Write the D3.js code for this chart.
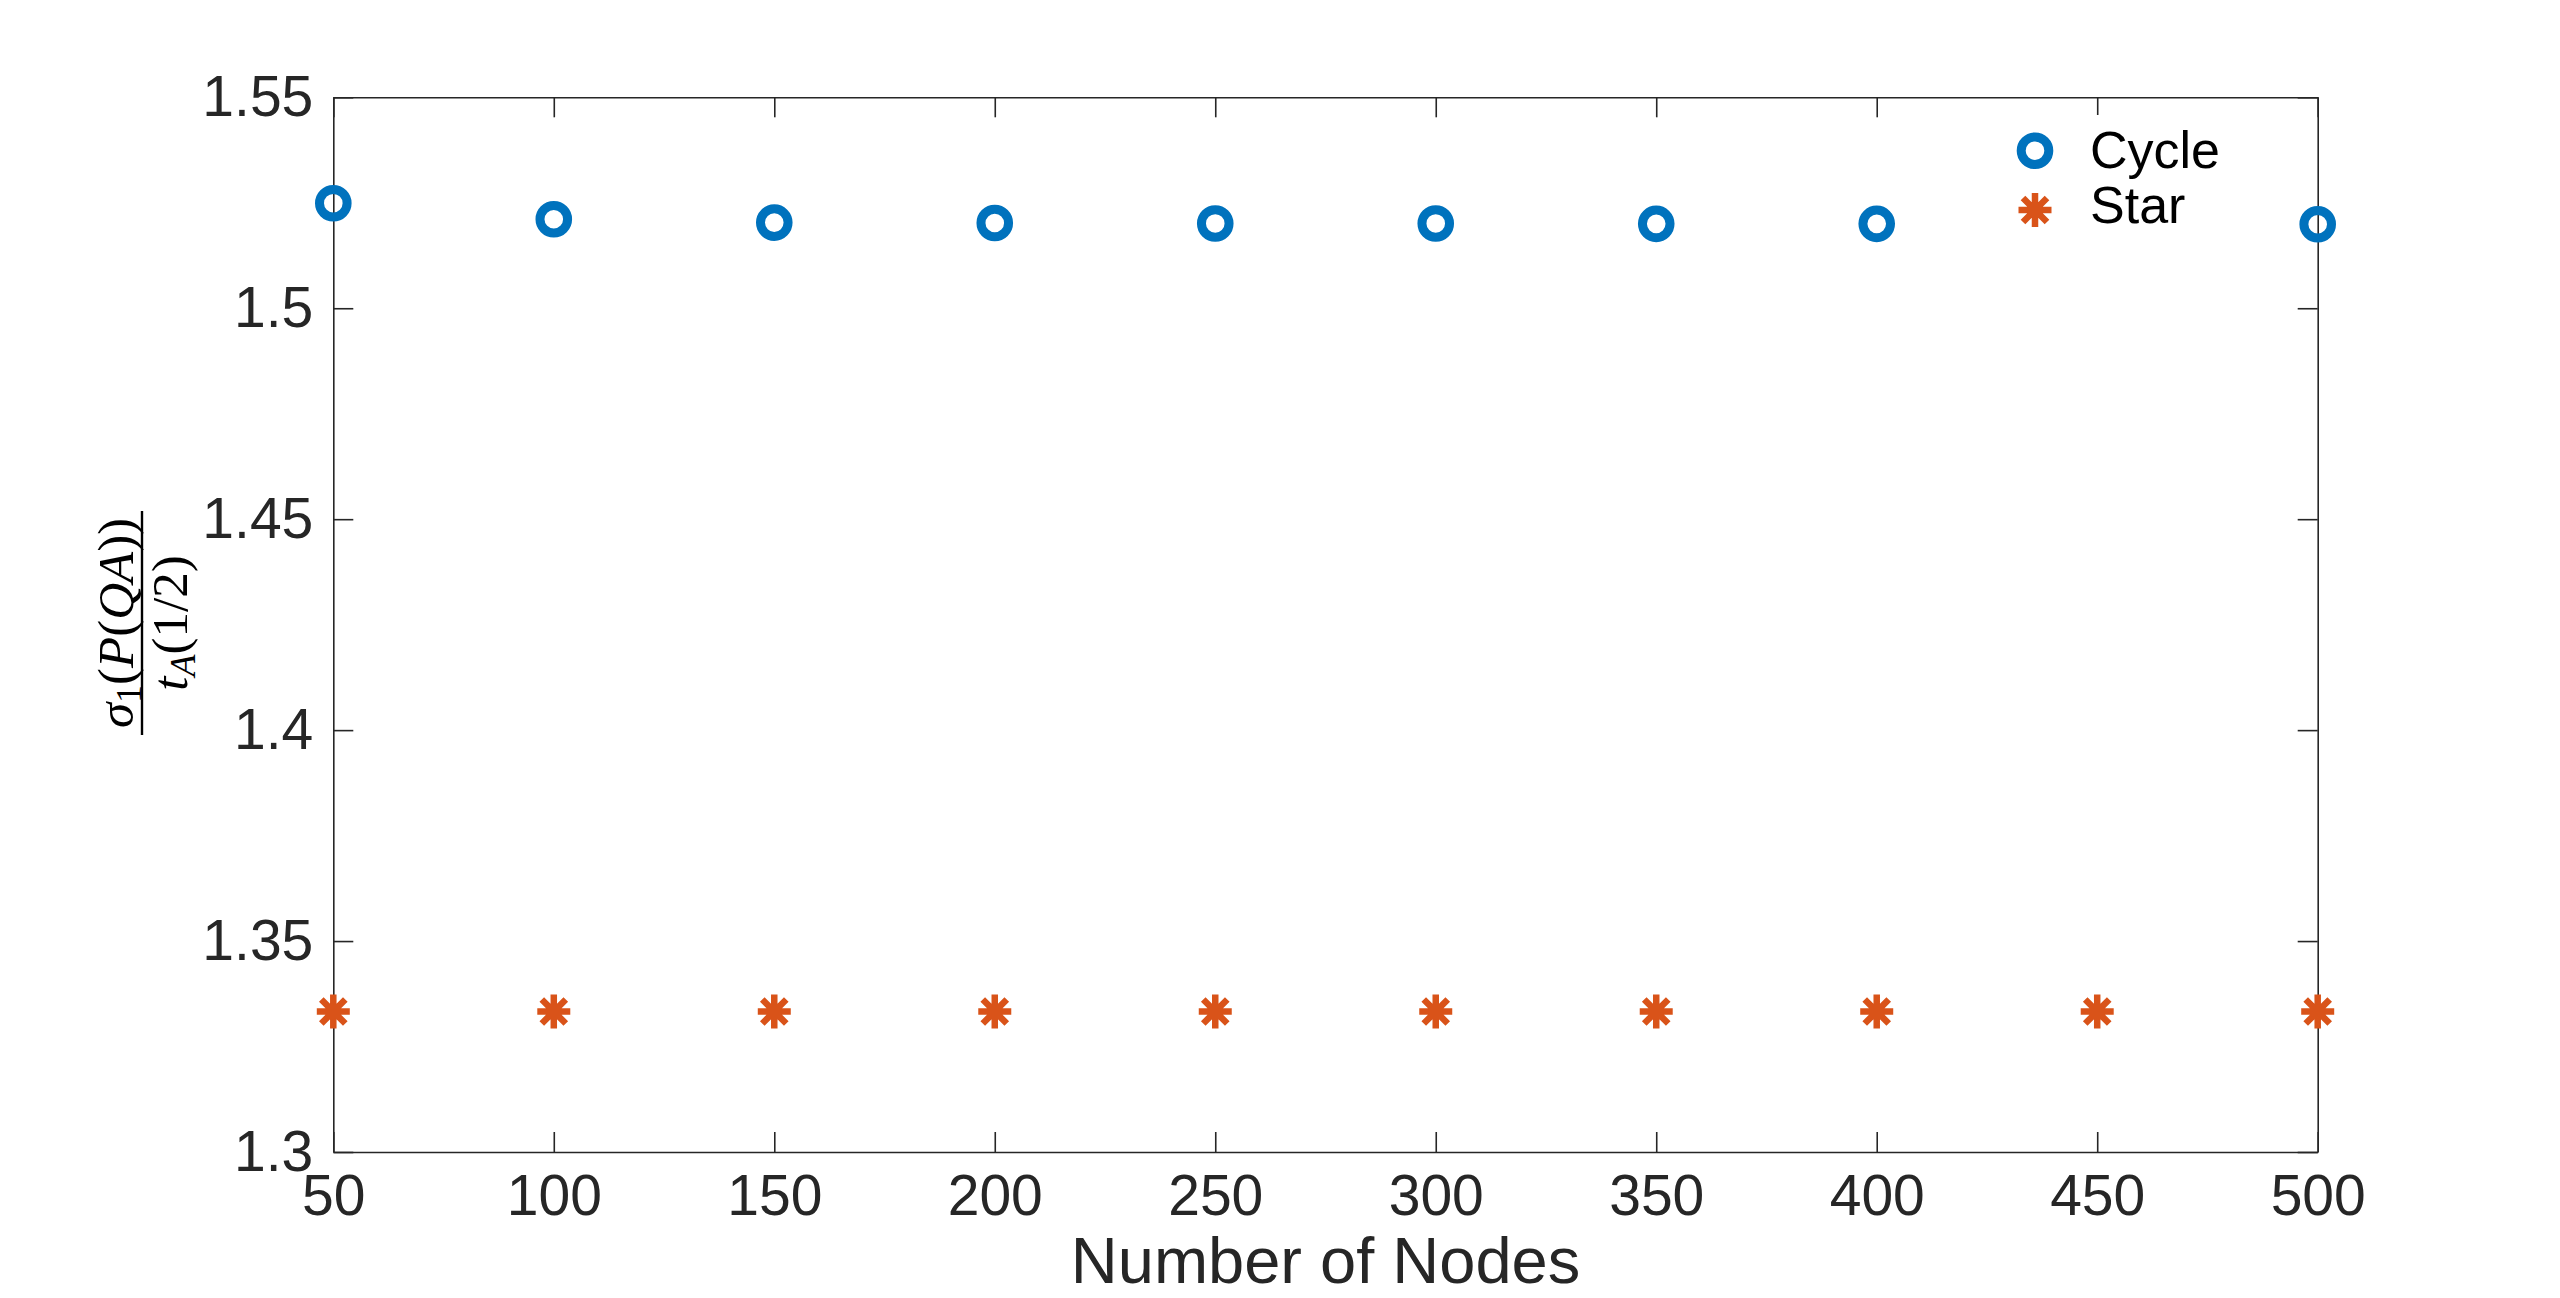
<!DOCTYPE html>
<html>
<head>
<meta charset="utf-8">
<script src="https://cdn.jsdelivr.net/npm/d3@7"></script>
<style>
  html, body { margin: 0; padding: 0; background: #fff; }
  svg { display: block; }
</style>
</head>
<body>
<svg id="chart" width="2560" height="1298"></svg>
<script>
// ---- data ----
const nodes = [50, 100, 150, 200, 250, 300, 350, 400, 450, 500];
const cycleValues = [1.5249, 1.5211, 1.5203, 1.5202, 1.5201, 1.5201, 1.5200, 1.5200, 1.5199, 1.5199];
const starValues = [1.3333, 1.3333, 1.3333, 1.3333, 1.3333, 1.3333, 1.3333, 1.3333, 1.3333, 1.3333];
const xTicks = [50, 100, 150, 200, 250, 300, 350, 400, 450, 500];
const yTicks = [1.3, 1.35, 1.4, 1.45, 1.5, 1.55];
const yTickLabels = ["1.3", "1.35", "1.4", "1.45", "1.5", "1.55"];
const seriesNames = ["Cycle", "Star"];
const xLabel = "Number of Nodes";

// ---- layout ----
const L = 333.3, R = 2317.7, T = 97.3, B = 1152;
const blue = "#0072BD", orange = "#D95319", axisCol = "#262626";
const svg = d3.select("#chart");

const x = d3.scaleLinear().domain([50, 500]).range([L, R]);
const y = d3.scaleLinear().domain([1.3, 1.55]).range([B, T]);

const tickFont = "'Liberation Sans', Arial, Helvetica, sans-serif";

function styleAxis(g) {
  g.selectAll("path.domain").attr("stroke", axisCol).attr("stroke-width", 1.6);
  g.selectAll(".tick line").attr("stroke", axisCol).attr("stroke-width", 1.6);
  g.selectAll(".tick text").attr("fill", axisCol)
    .style("font-family", tickFont).style("font-size", "57px");
}

// bottom
svg.append("g").attr("transform", `translate(0,${B})`)
  .call(d3.axisBottom(x).tickValues(xTicks).tickSizeInner(-20).tickSizeOuter(0).tickPadding(22.5).tickFormat(d3.format("d")))
  .call(styleAxis);
// top
svg.append("g").attr("transform", `translate(0,${T})`)
  .call(d3.axisTop(x).tickValues(xTicks).tickSizeInner(-20).tickSizeOuter(0).tickFormat(""))
  .call(styleAxis);
// left
svg.append("g").attr("transform", `translate(${L},0)`)
  .call(d3.axisLeft(y).tickValues(yTicks).tickSizeInner(-20).tickSizeOuter(0).tickPadding(20)
    .tickFormat((d, i) => yTickLabels[i]))
  .call(styleAxis);
// right
svg.append("g").attr("transform", `translate(${R},0)`)
  .call(d3.axisRight(y).tickValues(yTicks).tickSizeInner(-20).tickSizeOuter(0).tickFormat(""))
  .call(styleAxis);

svg.selectAll("g").attr("font-family", null).attr("font-size", null);

// ---- markers ----
const starPath = "M-16.5,0L16.5,0M0,-17L0,17M-12,-12L12,12M-12,12L12,-12";

const data = nodes.map((n, i) => ({ n, c: cycleValues[i], s: starValues[i] }));

svg.append("g").selectAll("path.star").data(data).join("path")
  .attr("class", "star")
  .attr("d", starPath)
  .attr("transform", d => `translate(${x(d.n)},${y(d.s)})`)
  .attr("stroke", orange).attr("stroke-width", 6.5).attr("fill", "none");

svg.append("g").selectAll("circle.cyc").data(data).join("circle")
  .attr("class", "cyc")
  .attr("cx", d => x(d.n)).attr("cy", d => y(d.c)).attr("r", 13.8)
  .attr("fill", "none").attr("stroke", blue).attr("stroke-width", 9);

// ---- legend (white background, no border) ----
const lg = svg.append("g").attr("transform", "translate(2035,0)");
lg.append("rect").attr("x", -30).attr("y", 115).attr("width", 240).attr("height", 137).attr("fill", "#fff");
lg.append("circle").attr("cx", 0).attr("cy", 150.7).attr("r", 13.8)
  .attr("fill", "none").attr("stroke", blue).attr("stroke-width", 9);
lg.append("path").attr("d", starPath).attr("transform", "translate(0,210)")
  .attr("stroke", orange).attr("stroke-width", 6.5).attr("fill", "none");
lg.selectAll("text").data(seriesNames).join("text")
  .attr("x", 55).attr("y", (d, i) => i === 0 ? 168 : 223)
  .attr("fill", "#000")
  .style("font-family", tickFont).style("font-size", "52px")
  .text(d => d);

// ---- x label ----
svg.append("text")
  .attr("x", (L + R) / 2).attr("y", 1283)
  .attr("text-anchor", "middle").attr("fill", axisCol)
  .style("font-family", tickFont).style("font-size", "65px")
  .text(xLabel);

// ---- y label (fraction) ----
const serif = "'Liberation Serif', 'DejaVu Serif', 'Times New Roman', serif";
const yl = svg.append("g").attr("transform", "translate(142,623) rotate(-90)");
yl.append("line").attr("x1", -112).attr("x2", 112).attr("y1", 0).attr("y2", 0)
  .attr("stroke", "#000").attr("stroke-width", 2.4);

const num = yl.append("text").attr("x", 0).attr("y", -9).attr("text-anchor", "middle")
  .attr("fill", "#000").style("font-family", serif).style("font-size", "51px");
num.append("tspan").style("font-style", "italic").text("σ");
num.append("tspan").attr("dy", 8).style("font-size", "36px").text("1");
num.append("tspan").attr("dy", -8).text("(");
num.append("tspan").style("font-style", "italic").text("P");
num.append("tspan").text("(");
num.append("tspan").style("font-style", "italic").text("QA");
num.append("tspan").text("))");

const den = yl.append("text").attr("x", 0).attr("y", 45).attr("text-anchor", "middle")
  .attr("fill", "#000").style("font-family", serif).style("font-size", "51px");
den.append("tspan").style("font-style", "italic").text("t");
den.append("tspan").attr("dy", 8).style("font-style", "italic").style("font-size", "36px").text("A");
den.append("tspan").attr("dy", -8).text("(1/2)");
</script>
</body>
</html>
